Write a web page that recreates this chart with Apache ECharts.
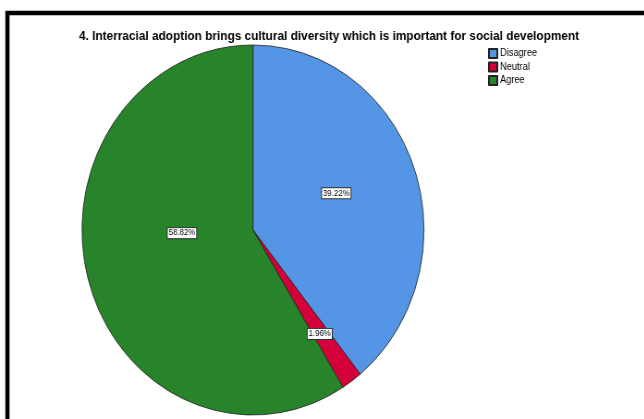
<!DOCTYPE html>
<html>
<head>
<meta charset="utf-8">
<script src="https://cdn.jsdelivr.net/npm/echarts@6/dist/echarts.min.js"></script>
<style>
html,body{margin:0;padding:0;background:#fff;overflow:hidden;}
#wrap{width:644px;height:419px;overflow:hidden;position:relative;}
#chart{width:697px;height:419px;transform:scaleX(0.9243);transform-origin:0 0;position:absolute;left:0;top:0;}
</style>
</head>
<body>
<div id="wrap"><div id="chart"></div></div>
<script>
const titleText = '4. Interracial adoption brings cultural diversity which is important for social development';
const categories = ['Disagree', 'Neutral', 'Agree'];
const counts = [20, 1, 30];
const colors = ['#5595e5', '#d4003a', '#27842a'];
const labelOffsets = [[0, -5], [17, 26], [15, -23]];

const total = counts.reduce((a, b) => a + b, 0);
const data = categories.map((name, i) => ({
  name: name,
  value: counts[i],
  itemStyle: { color: colors[i] },
  label: { offset: labelOffsets[i] }
}));

const chart = echarts.init(document.getElementById('chart'), null, { renderer: 'canvas' });
chart.setOption({
  backgroundColor: '#fff',
  animation: false,
  title: {
    text: titleText,
    left: 351,
    top: 25,
    textAlign: 'center',
    textStyle: { fontFamily: 'Liberation Sans, Arial, sans-serif', fontSize: 12.8, fontWeight: 'bold', color: '#000' }
  },
  legend: {
    orient: 'vertical',
    left: 523,
    top: 43,
    itemWidth: 9,
    itemHeight: 9,
    itemGap: 2.5,
    icon: 'rect',
    data: categories,
    textStyle: { fontFamily: 'Liberation Sans, Arial, sans-serif', fontSize: 10, color: '#000', padding: [0, 0, 0, -2] }
  },
  graphic: [{
    type: 'rect',
    shape: { x: 8, y: 13, width: 900, height: 600 },
    style: { fill: 'none', stroke: '#000', lineWidth: 4.5 },
    silent: true
  }],
  series: [{
    type: 'pie',
    center: [273.7, 230],
    radius: [0, 185],
    startAngle: 90,
    clockwise: true,
    avoidLabelOverlap: false,
    itemStyle: { borderColor: '#222', borderWidth: 0.8 },
    label: {
      show: true,
      position: 'inside',
      formatter: p => (p.value / total * 100).toFixed(2) + '%',
      fontFamily: 'Liberation Sans, Arial, sans-serif',
      fontSize: 8.5,
      color: '#000',
      backgroundColor: '#fff',
      borderColor: '#333',
      borderWidth: 1,
      padding: [1, 1, 0, 1]
    },
    labelLine: { show: false },
    emphasis: { disabled: true },
    data: data
  }]
});
</script>
</body>
</html>
